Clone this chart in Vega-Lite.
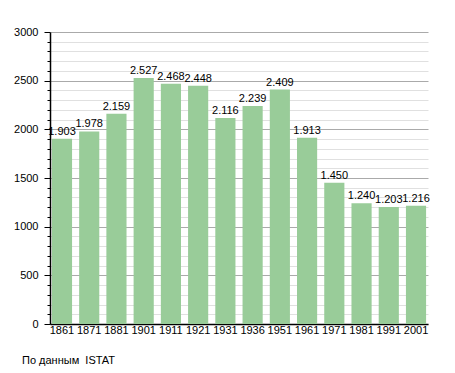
{
  "$schema": "https://vega.github.io/schema/vega-lite/v6.json",
  "width": 378,
  "height": 292,
  "autosize": {"type": "none"},
  "padding": {"left": 50, "top": 32, "right": 27, "bottom": 49},
  "background": "white",
  "config": {
    "view": {"stroke": null},
    "font": "Liberation Sans",
    "axis": {"labelFont": "Liberation Sans", "labelFontSize": 11, "labelColor": "#000", "domainColor": "#000", "tickColor": "#000"}
  },
  "title": {
    "text": "По данным\u00a0\u00a0ISTAT",
    "orient": "bottom",
    "anchor": "start",
    "frame": "group",
    "dx": -28,
    "offset": 20,
    "font": "Liberation Sans",
    "fontSize": 11,
    "fontWeight": "normal",
    "color": "#000"
  },
  "data": {
    "values": [
      {"year": "1861", "pop": 1903, "label": "1.903"},
      {"year": "1871", "pop": 1978, "label": "1.978"},
      {"year": "1881", "pop": 2159, "label": "2.159"},
      {"year": "1901", "pop": 2527, "label": "2.527"},
      {"year": "1911", "pop": 2468, "label": "2.468"},
      {"year": "1921", "pop": 2448, "label": "2.448"},
      {"year": "1931", "pop": 2116, "label": "2.116"},
      {"year": "1936", "pop": 2239, "label": "2.239"},
      {"year": "1951", "pop": 2409, "label": "2.409"},
      {"year": "1961", "pop": 1913, "label": "1.913"},
      {"year": "1971", "pop": 1450, "label": "1.450"},
      {"year": "1981", "pop": 1240, "label": "1.240"},
      {"year": "1991", "pop": 1203, "label": "1.203"},
      {"year": "2001", "pop": 1216, "label": "1.216"}
    ]
  },
  "encoding": {
    "x": {
      "field": "year",
      "type": "ordinal",
      "sort": null,
      "scale": {"paddingInner": 0.26, "paddingOuter": 0.07},
      "axis": {"title": null, "labelAngle": 0, "ticks": false, "labelPadding": 0, "domainWidth": 1.5}
    },
    "y": {
      "field": "pop",
      "type": "quantitative",
      "scale": {"domain": [0, 3000], "nice": false},
      "axis": {
        "title": null,
        "values": [0,100,200,300,400,500,600,700,800,900,1000,1100,1200,1300,1400,1500,1600,1700,1800,1900,2000,2100,2200,2300,2400,2500,2600,2700,2800,2900,3000],
        "labelExpr": "datum.value % 500 === 0 ? datum.value : ''",
        "grid": true,
        "gridColor": {"condition": {"test": "datum.value % 500 === 0", "value": "#aaaaaa"}, "value": "#e0e0e0"},
        "tickSize": {"condition": {"test": "datum.value % 500 === 0", "value": 6}, "value": 3},
        "labelPadding": 6,
        "domainWidth": 1.5
      }
    }
  },
  "layer": [
    {"mark": {"type": "bar", "color": "#99cc99"}},
    {
      "mark": {"type": "text", "baseline": "bottom", "dy": -2, "fontSize": 11, "color": "#000", "font": "Liberation Sans"},
      "encoding": {"text": {"field": "label"}}
    }
  ]
}
